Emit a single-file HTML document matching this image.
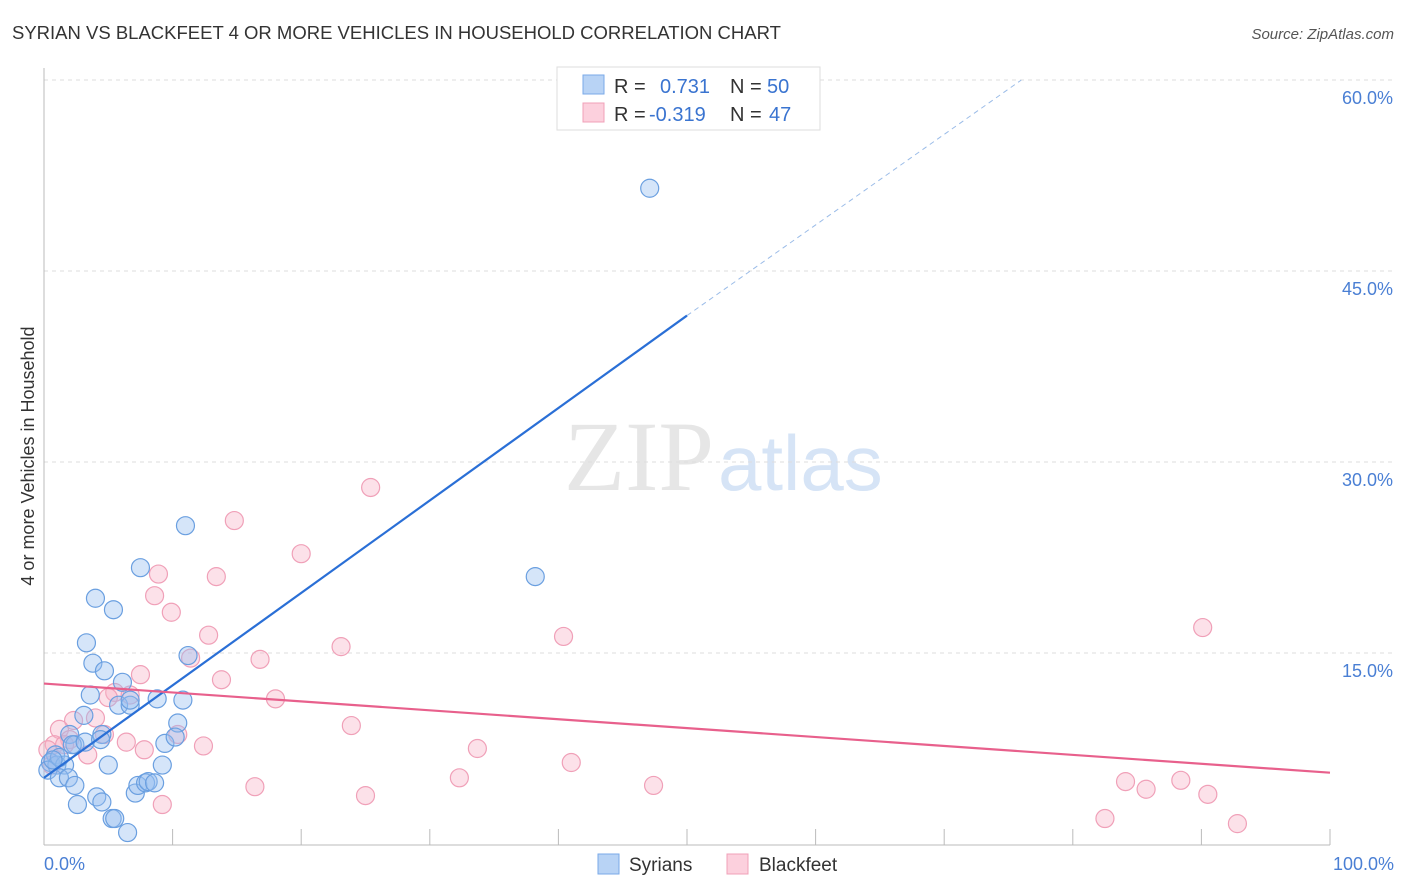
<!DOCTYPE html>
<html><head><meta charset="utf-8"><style>
body{margin:0;background:#fff;font-family:"Liberation Sans",sans-serif}
svg{display:block}
</style></head><body>
<svg id="c" width="1406" height="892" xmlns="http://www.w3.org/2000/svg">
<text x="12" y="39" font-size="18.5" fill="#333">SYRIAN VS BLACKFEET 4 OR MORE VEHICLES IN HOUSEHOLD CORRELATION CHART</text>
<text x="1394" y="39" font-size="15" fill="#555" font-style="italic" text-anchor="end">Source: ZipAtlas.com</text>
<text x="714" y="490" font-size="100" fill="#e6e6e6" font-family="Liberation Serif" text-anchor="end">ZIP</text>
<text x="718" y="490" font-size="78" fill="#d6e4f6">atlas</text>
<g id="grid"></g>
<line x1="44" y1="68" x2="44" y2="845" stroke="#bbb"/>
<line x1="44" y1="845" x2="1330" y2="845" stroke="#bbb"/>
<g id="ticks"></g>
<text transform="translate(34,456) rotate(-90)" font-size="18" fill="#333" text-anchor="middle">4 or more Vehicles in Household</text>
<text x="44" y="870" font-size="18" fill="#4a7fd4">0.0%</text>
<text x="1394" y="870" font-size="18" fill="#4a7fd4" text-anchor="end">100.0%</text>
<g id="pts"></g>
<g id="lines"></g>
<g>
<rect x="557" y="67" width="263" height="63" fill="#fff" stroke="#ddd"/>
<rect x="583" y="75" width="21" height="19" fill="#b8d3f5" stroke="#7aaae8"/>
<rect x="583" y="103" width="21" height="19" fill="#fcd0dd" stroke="#f0a0b8"/>
<text x="614" y="93" font-size="20" fill="#333">R = <tspan fill="#3a74d0" x="660">0.731</tspan><tspan x="730" fill="#333">N = </tspan><tspan fill="#3a74d0" x="767">50</tspan></text>
<text x="614" y="121" font-size="20" fill="#333">R = <tspan fill="#3a74d0" x="649">-0.319</tspan><tspan x="730" fill="#333">N = </tspan><tspan fill="#3a74d0" x="769">47</tspan></text>
</g>
<g>
<rect x="598" y="854" width="21" height="20" fill="#b8d3f5" stroke="#7aaae8"/>
<text x="629" y="871" font-size="19" fill="#333">Syrians</text>
<rect x="727" y="854" width="21" height="20" fill="#fcd0dd" stroke="#f0a0b8"/>
<text x="759" y="871" font-size="19" fill="#333">Blackfeet</text>
</g>
</svg>
<script>
const yTicks=[15,30,45,60];
const yTickLabels=["15.0%","30.0%","45.0%","60.0%"];
const xTicks=[10,20,30,40,50,60,70,80,90,100];
const syrX=[47.1,38.2,11.0,7.5,4.0,5.4,3.3,3.8,4.7,3.6,6.1,11.2,5.8,6.7,8.8,10.8,3.1,10.4,9.4,10.2,2.0,2.4,4.5,0.9,0.5,1.0,1.6,0.3,1.2,1.9,2.4,5.0,9.2,2.6,4.1,4.5,5.3,5.5,7.1,7.3,7.9,8.1,8.6,6.5,6.7,1.2,0.7,2.2,3.2,4.4];
const syrY=[51.5,21.0,25.0,21.7,19.3,18.4,15.8,14.2,13.6,11.7,12.7,14.8,10.9,10.9,11.4,11.3,10.1,9.5,7.9,8.4,8.6,7.8,8.6,7.0,6.4,6.2,6.2,5.8,5.2,5.2,4.6,6.2,6.2,3.1,3.7,3.3,2.0,2.0,4.0,4.6,4.8,4.9,4.8,0.9,11.3,6.8,6.6,7.8,8.0,8.2];
const blkX=[25.4,14.8,20.0,8.9,13.4,8.6,9.9,12.8,40.4,23.1,16.8,11.4,7.5,13.8,18.0,5.5,6.7,90.1,23.9,4.0,2.3,1.2,4.7,6.4,2.0,0.8,0.3,3.4,7.8,12.4,10.4,33.7,41.0,32.3,16.4,25.0,9.2,47.4,84.1,85.7,88.4,90.5,82.5,92.8,5.0,0.6,1.6];
const blkY=[28.0,25.4,22.8,21.2,21.0,19.5,18.2,16.4,16.3,15.5,14.5,14.6,13.3,12.9,11.4,11.9,11.7,17.0,9.3,9.9,9.7,9.0,8.6,8.0,8.2,7.8,7.4,7.0,7.4,7.7,8.6,7.5,6.4,5.2,4.5,3.8,3.1,4.6,4.9,4.3,5.0,3.9,2.0,1.6,11.5,6.2,7.8];
const syrLine=[0,5.2,50,41.5,76,60];
const blkLine=[0,12.6,100,5.6];
const NS="http://www.w3.org/2000/svg";
const X=v=>44+v*12.86, Y=v=>844-v*12.733;
function mk(t,a,p){const e=document.createElementNS(NS,t);for(const k in a)e.setAttribute(k,a[k]);p.appendChild(e);return e;}
const g=document.getElementById('grid'),tk=document.getElementById('ticks'),pts=document.getElementById('pts'),ln=document.getElementById('lines');
yTicks.forEach((v,i)=>{
 const l=mk('line',{x1:44,x2:1394,y1:Y(v),y2:Y(v),stroke:'#ddd','stroke-dasharray':'4,4'},g);
 
 
 const t=mk('text',{x:1393,y:Y(v)+24,'font-size':18,fill:'#4a7fd4','text-anchor':'end'},tk);
 t.textContent=yTickLabels[i];
 
 
});
xTicks.forEach(v=>{
 const l=mk('line',{x1:X(v),x2:X(v),y1:829,y2:845,stroke:'#bbb'},tk);
 
 
});
function dots(xs,ys,fill,stroke,name){xs.forEach((x,i)=>{
 const c=mk('circle',{cx:X(x),cy:Y(ys[i]),r:9,fill:fill,stroke:stroke,'stroke-width':1.2},pts);
 
 
});}
dots(blkX,blkY,'rgba(248,180,200,0.4)','#f0a0b8','blackfeet-point');
dots(syrX,syrY,'rgba(150,190,240,0.4)','#6a9fe0','syrian-point');
let l1=mk('line',{x1:X(syrLine[0]),y1:Y(syrLine[1]),x2:X(syrLine[2]),y2:Y(syrLine[3]),stroke:'#2a6fd6','stroke-width':2.2},ln);


let l2=mk('line',{x1:X(syrLine[2]),y1:Y(syrLine[3]),x2:X(syrLine[4]),y2:Y(syrLine[5]),stroke:'#9bbce8','stroke-width':1,'stroke-dasharray':'5,4'},ln);


let l3=mk('line',{x1:X(blkLine[0]),y1:Y(blkLine[1]),x2:X(blkLine[2]),y2:Y(blkLine[3]),stroke:'#e8608c','stroke-width':2.2},ln);


</script>
</body></html>
